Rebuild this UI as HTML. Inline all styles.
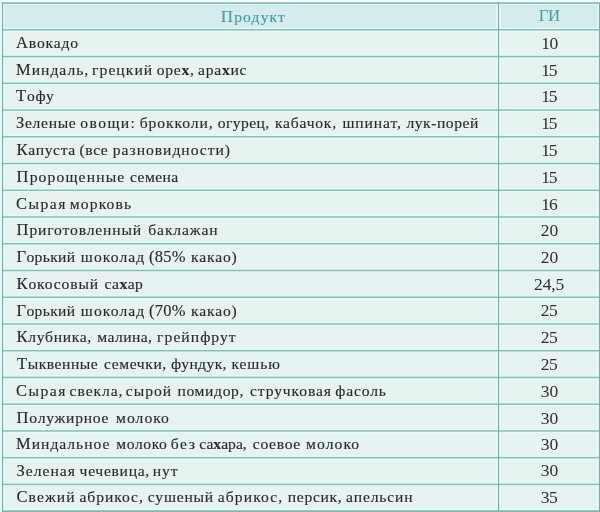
<!DOCTYPE html>
<html lang="ru"><head><meta charset="utf-8"><title>ГИ</title><style>
html,body{margin:0;padding:0;background:#fff;}
body{width:600px;height:512px;overflow:hidden;position:relative;font-family:"Liberation Serif",serif;}
.w{position:absolute;white-space:nowrap;font-size:15.6px;line-height:20px;color:#2b2b2b;}
.t{-webkit-text-stroke:0.15px #2b2b2b;}
.w i{font-style:normal;font-weight:bold;}
.w b{font-weight:normal;font-size:16.5px;line-height:0;}
#tx{position:absolute;left:0;top:0;width:600px;height:512px;will-change:transform;}
.n{font-size:17.5px;color:#303030;}
.d{font-size:16.5px;}
.n.h{font-size:16.8px;}
.h{color:#46a0a0;}
.t.h{-webkit-text-stroke:0.2px #46a0a0;}
</style></head><body>

<svg width="600" height="512" viewBox="0 0 600 512" style="position:absolute;left:0;top:0"><rect x="0" y="1.2" width="600" height="511" fill="#e4fbfa"/><rect x="2.2" y="3" width="597" height="509" fill="#e6f3f1"/><rect x="2.2" y="3" width="597" height="26.74" fill="#d5ecec"/><rect x="1.9" y="27.74" width="597.1" height="4.2" fill="#e3fcfa"/><rect x="1.9" y="54.48" width="597.1" height="4.2" fill="#e3fcfa"/><rect x="1.9" y="81.22" width="597.1" height="4.2" fill="#e3fcfa"/><rect x="1.9" y="107.96" width="597.1" height="4.2" fill="#e3fcfa"/><rect x="1.9" y="134.70" width="597.1" height="4.2" fill="#e3fcfa"/><rect x="1.9" y="161.44" width="597.1" height="4.2" fill="#e3fcfa"/><rect x="1.9" y="188.18" width="597.1" height="4.2" fill="#e3fcfa"/><rect x="1.9" y="214.92" width="597.1" height="4.2" fill="#e3fcfa"/><rect x="1.9" y="241.66" width="597.1" height="4.2" fill="#e3fcfa"/><rect x="1.9" y="268.40" width="597.1" height="4.2" fill="#e3fcfa"/><rect x="1.9" y="295.14" width="597.1" height="4.2" fill="#e3fcfa"/><rect x="1.9" y="321.88" width="597.1" height="4.2" fill="#e3fcfa"/><rect x="1.9" y="348.62" width="597.1" height="4.2" fill="#e3fcfa"/><rect x="1.9" y="375.36" width="597.1" height="4.2" fill="#e3fcfa"/><rect x="1.9" y="402.10" width="597.1" height="4.2" fill="#e3fcfa"/><rect x="1.9" y="428.84" width="597.1" height="4.2" fill="#e3fcfa"/><rect x="1.9" y="455.58" width="597.1" height="4.2" fill="#e3fcfa"/><rect x="1.9" y="482.32" width="597.1" height="4.2" fill="#e3fcfa"/><rect x="496.25" y="3" width="4.4" height="509" fill="#e3fcfa"/><rect x="2" y="2" width="597.8" height="3.1" fill="#dbf6f3"/><rect x="2" y="4" width="2.4" height="508" fill="#dff8f6"/><rect x="597.4" y="4" width="2.6" height="508" fill="#d6fafa"/><rect x="2" y="508.8" width="597.8" height="3.2" fill="#e3fcfa"/><rect x="1.9" y="2.3" width="597.1" height="1.7" fill="#84c2b6"/><rect x="1.9" y="29.09" width="597.1" height="1.5" fill="#88bdb6"/><rect x="1.9" y="55.83" width="597.1" height="1.5" fill="#88bdb6"/><rect x="1.9" y="82.57" width="597.1" height="1.5" fill="#88bdb6"/><rect x="1.9" y="109.31" width="597.1" height="1.5" fill="#88bdb6"/><rect x="1.9" y="136.05" width="597.1" height="1.5" fill="#88bdb6"/><rect x="1.9" y="162.79" width="597.1" height="1.5" fill="#88bdb6"/><rect x="1.9" y="189.53" width="597.1" height="1.5" fill="#88bdb6"/><rect x="1.9" y="216.27" width="597.1" height="1.5" fill="#88bdb6"/><rect x="1.9" y="243.01" width="597.1" height="1.5" fill="#88bdb6"/><rect x="1.9" y="269.75" width="597.1" height="1.5" fill="#88bdb6"/><rect x="1.9" y="296.49" width="597.1" height="1.5" fill="#88bdb6"/><rect x="1.9" y="323.23" width="597.1" height="1.5" fill="#88bdb6"/><rect x="1.9" y="349.97" width="597.1" height="1.5" fill="#88bdb6"/><rect x="1.9" y="376.71" width="597.1" height="1.5" fill="#88bdb6"/><rect x="1.9" y="403.45" width="597.1" height="1.5" fill="#88bdb6"/><rect x="1.9" y="430.19" width="597.1" height="1.5" fill="#88bdb6"/><rect x="1.9" y="456.93" width="597.1" height="1.5" fill="#88bdb6"/><rect x="1.9" y="483.67" width="597.1" height="1.5" fill="#88bdb6"/><rect x="1.9" y="510.3" width="597.1" height="1.7" fill="#80b6b0"/><rect x="1.95" y="2.3" width="1.10" height="510" fill="#7fabaa"/><rect x="497.95" y="2.3" width="1.10" height="510" fill="#7fabaa"/><rect x="599.00" y="2.3" width="1.00" height="510" fill="#7fabaa"/></svg>
<div id="tx">
<span class="w t h" style="left:221.10px;top:6.94px;letter-spacing:1.140px"><b>П</b>родукт</span>
<span class="w n h" style="left:538.80px;top:5.53px;letter-spacing:-0.402px">ГИ</span>
<span class="w t" style="left:16.10px;top:32.67px;letter-spacing:0.839px"><b>А</b>вокадо</span>
<span class="w n" style="left:541.20px;top:33.03px;letter-spacing:-0.550px">10</span>
<span class="w t" style="left:16.10px;top:60.42px;letter-spacing:0.993px"><b>М</b>индаль,</span>
<span class="w t" style="left:92.10px;top:60.42px;letter-spacing:1.053px">грецкий</span>
<span class="w t" style="left:156.70px;top:60.42px;letter-spacing:0.773px">оре<i>х</i>,</span>
<span class="w t" style="left:198.10px;top:60.42px;letter-spacing:0.734px">ара<i>х</i>ис</span>
<span class="w n" style="left:541.20px;top:59.77px;letter-spacing:-1.250px">15</span>
<span class="w t" style="left:16.10px;top:86.15px;letter-spacing:0.786px"><b>Т</b>офу</span>
<span class="w n" style="left:541.20px;top:85.51px;letter-spacing:-1.250px">15</span>
<span class="w t" style="left:16.10px;top:112.89px;letter-spacing:0.665px"><b>З</b>еленые</span>
<span class="w t" style="left:80.35px;top:112.89px;letter-spacing:1.409px">овощи:</span>
<span class="w t" style="left:139.70px;top:112.89px;letter-spacing:0.924px">брокколи,</span>
<span class="w t" style="left:217.80px;top:112.89px;letter-spacing:0.408px">огурец,</span>
<span class="w t" style="left:275.00px;top:112.89px;letter-spacing:0.785px">кабачок,</span>
<span class="w t" style="left:342.40px;top:112.89px;letter-spacing:0.900px">шпинат,</span>
<span class="w t" style="left:406.40px;top:112.89px;letter-spacing:0.549px">лук-порей</span>
<span class="w n" style="left:541.20px;top:113.25px;letter-spacing:-1.250px">15</span>
<span class="w t" style="left:16.60px;top:139.63px;letter-spacing:0.652px"><b>К</b>апуста</span>
<span class="w t" style="left:79.60px;top:139.63px;letter-spacing:0.541px">(все</span>
<span class="w t" style="left:112.85px;top:139.63px;letter-spacing:0.975px">разновидности)</span>
<span class="w n" style="left:541.20px;top:139.99px;letter-spacing:-1.250px">15</span>
<span class="w t" style="left:16.60px;top:167.38px;letter-spacing:1.150px"><b>П</b>ророщенные</span>
<span class="w t" style="left:130.10px;top:167.38px;letter-spacing:0.407px">семена</span>
<span class="w n" style="left:541.20px;top:166.73px;letter-spacing:-1.250px">15</span>
<span class="w t" style="left:16.10px;top:194.11px;letter-spacing:1.475px"><b>С</b>ырая</span>
<span class="w t" style="left:69.85px;top:194.11px;letter-spacing:1.132px">морковь</span>
<span class="w n" style="left:541.20px;top:194.47px;letter-spacing:-0.850px">16</span>
<span class="w t" style="left:16.60px;top:219.85px;letter-spacing:0.855px"><b>П</b>риготовленный</span>
<span class="w t" style="left:148.30px;top:219.85px;letter-spacing:0.882px">баклажан</span>
<span class="w n" style="left:540.70px;top:220.21px;letter-spacing:-0.050px">20</span>
<span class="w t" style="left:16.60px;top:246.60px;letter-spacing:0.339px"><b>Г</b>орький</span>
<span class="w t" style="left:80.85px;top:246.60px;letter-spacing:1.095px">шоколад</span>
<span class="w t" style="left:149.10px;top:246.60px;letter-spacing:0.235px"><b>(85%</b></span>
<span class="w t" style="left:191.10px;top:246.60px;letter-spacing:0.826px">какао)</span>
<span class="w n" style="left:540.70px;top:246.95px;letter-spacing:-0.050px">20</span>
<span class="w t" style="left:16.60px;top:274.34px;letter-spacing:0.859px"><b>К</b>окосовый</span>
<span class="w t" style="left:104.60px;top:274.34px;letter-spacing:0.414px">са<i>х</i>ар</span>
<span class="w n" style="left:534.10px;top:273.69px;letter-spacing:-0.125px">24,5</span>
<span class="w t" style="left:16.60px;top:301.08px;letter-spacing:0.339px"><b>Г</b>орький</span>
<span class="w t" style="left:80.85px;top:301.08px;letter-spacing:1.095px">шоколад</span>
<span class="w t" style="left:149.10px;top:301.08px;letter-spacing:0.235px"><b>(70%</b></span>
<span class="w t" style="left:191.10px;top:301.08px;letter-spacing:0.826px">какао)</span>
<span class="w n" style="left:540.70px;top:300.43px;letter-spacing:-0.450px">25</span>
<span class="w t" style="left:16.60px;top:326.82px;letter-spacing:0.680px"><b>К</b>лубника,</span>
<span class="w t" style="left:97.35px;top:326.82px;letter-spacing:0.406px">малина,</span>
<span class="w t" style="left:157.10px;top:326.82px;letter-spacing:1.050px">грейпфрут</span>
<span class="w n" style="left:540.70px;top:327.17px;letter-spacing:-0.450px">25</span>
<span class="w t" style="left:17.10px;top:353.56px;letter-spacing:0.526px"><b>Т</b>ыквенные</span>
<span class="w t" style="left:104.10px;top:353.56px;letter-spacing:0.572px">семечки,</span>
<span class="w t" style="left:171.10px;top:353.56px;letter-spacing:0.389px">фундук,</span>
<span class="w t" style="left:231.40px;top:353.56px;letter-spacing:0.918px">кешью</span>
<span class="w n" style="left:540.70px;top:353.91px;letter-spacing:-0.450px">25</span>
<span class="w t" style="left:16.10px;top:381.30px;letter-spacing:1.475px"><b>С</b>ырая</span>
<span class="w t" style="left:69.60px;top:381.30px;letter-spacing:0.926px">свекла,</span>
<span class="w t" style="left:125.80px;top:381.30px;letter-spacing:1.002px">сырой</span>
<span class="w t" style="left:177.50px;top:381.30px;letter-spacing:0.631px">помидор,</span>
<span class="w t" style="left:250.00px;top:381.30px;letter-spacing:0.887px">стручковая</span>
<span class="w t" style="left:335.35px;top:381.30px;letter-spacing:0.826px">фасоль</span>
<span class="w n" style="left:540.70px;top:380.65px;letter-spacing:-0.050px">30</span>
<span class="w t" style="left:16.60px;top:408.04px;letter-spacing:0.758px"><b>П</b>олужирное</span>
<span class="w t" style="left:116.10px;top:408.04px;letter-spacing:1.026px">молоко</span>
<span class="w n" style="left:540.70px;top:408.39px;letter-spacing:-0.050px">30</span>
<span class="w t" style="left:16.10px;top:433.78px;letter-spacing:0.980px"><b>М</b>индальное</span>
<span class="w t" style="left:116.35px;top:433.78px;letter-spacing:0.576px">молоко</span>
<span class="w t" style="left:170.70px;top:433.78px;letter-spacing:1.630px">без</span>
<span class="w t" style="left:199.30px;top:433.78px;letter-spacing:0.006px">са<i>х</i>ара,</span>
<span class="w t" style="left:252.85px;top:433.78px;letter-spacing:0.675px">соевое</span>
<span class="w t" style="left:306.10px;top:433.78px;letter-spacing:1.076px">молоко</span>
<span class="w n" style="left:540.70px;top:434.13px;letter-spacing:-0.050px">30</span>
<span class="w t" style="left:16.40px;top:460.52px;letter-spacing:1.041px"><b>З</b>еленая</span>
<span class="w t" style="left:79.60px;top:460.52px;letter-spacing:0.698px">чечевица,</span>
<span class="w t" style="left:152.85px;top:460.52px;letter-spacing:0.904px">нут</span>
<span class="w n" style="left:540.70px;top:459.87px;letter-spacing:-0.050px">30</span>
<span class="w t" style="left:16.40px;top:487.26px;letter-spacing:1.117px"><b>С</b>вежий</span>
<span class="w t" style="left:79.40px;top:487.26px;letter-spacing:0.945px">абрикос,</span>
<span class="w t" style="left:147.85px;top:487.26px;letter-spacing:0.781px">сушеный</span>
<span class="w t" style="left:217.85px;top:487.26px;letter-spacing:1.080px">абрикос,</span>
<span class="w t" style="left:287.85px;top:487.26px;letter-spacing:0.674px">персик,</span>
<span class="w t" style="left:346.10px;top:487.26px;letter-spacing:0.865px">апельсин</span>
<span class="w n" style="left:540.70px;top:486.61px;letter-spacing:-0.450px">35</span>
</div></body></html>
